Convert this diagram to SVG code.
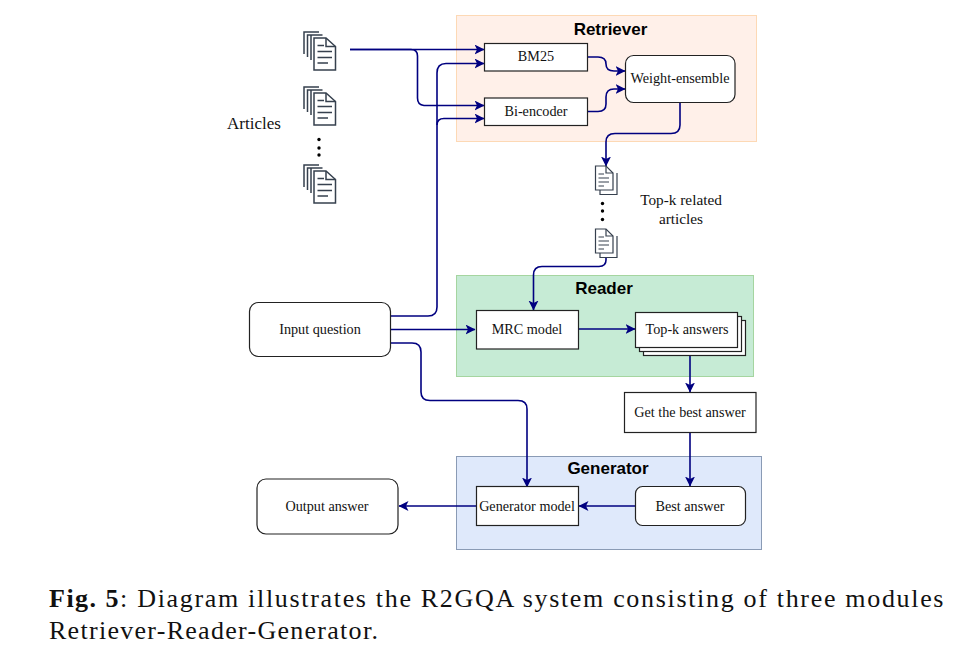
<svg xmlns="http://www.w3.org/2000/svg" xmlns:xlink="http://www.w3.org/1999/xlink" width="968" height="654" viewBox="0 0 968 654">
<style>
.box{fill:#fff;stroke:#222;stroke-width:1.2}
.t{font-family:"Liberation Serif","Times New Roman",serif;font-size:14.200px;fill:#111;text-anchor:middle}
.a{font-size:17px}
.k{font-size:15.300px}
.h{font-family:"Liberation Sans",Arial,sans-serif;font-size:17px;font-weight:700;fill:#000;text-anchor:middle}
.c{fill:none;stroke:#000080;stroke-width:1.6}
.cap{font-family:"Liberation Serif","Times New Roman",serif;font-size:26px;fill:#111}
.d{fill:#fff;stroke:#36404e;stroke-width:1.5}
.dl{fill:none;stroke:#36404e;stroke-width:1.5}
.ds{fill:#fff;stroke:#36404e;stroke-width:1.2}
.dsl{fill:none;stroke:#36404e;stroke-width:1.2}
.dot{fill:#000}
</style>
<defs>
<marker id="arr" markerWidth="12" markerHeight="12" refX="9.500" refY="5" orient="auto" markerUnits="userSpaceOnUse"><path d="M0 0L10 5L0 10L2.500 5Z" fill="#000080"/></marker>
<g id="bigdoc">
<path class="dl" d="M0 22V0H15M3.500 25V3H18.500M7 28V3.500"/>
<path class="d" d="M10 38V6H22L31.500 14.500V38Z"/>
<path class="dl" d="M22 6V14.500H31.500M13.500 13.500H20M13.500 19.500H28M13.500 25.500H28M13.500 31H24"/>
</g>
<g id="smalldoc">
<path class="dsl" d="M22 7V28.500H5V24"/>
<path class="ds" d="M0.500 0H11L18 7V24H0.500Z"/>
<path class="dsl" d="M11 0V7H18M3.500 8H9M3.500 12H14M3.500 16H14M3.500 20H9"/>
</g>
</defs>
<rect id="retriever-bg" x="456.500" y="15.500" width="300" height="126" fill="#fff0e9" stroke="#fdd9b5"/>
<rect id="reader-bg" x="456.500" y="275.500" width="297" height="101" fill="#c6ebd5" stroke="#a5d5a0"/>
<rect id="generator-bg" x="456.500" y="456.500" width="305" height="93" fill="#dfe9fb" stroke="#8a9bb5"/>
<text class="h" x="610.500" y="35">Retriever</text>
<text class="h" x="604" y="294">Reader</text>
<text class="h" x="608" y="474">Generator</text>
<g id="connectors">
<path class="c" d="M350 49.500H484" marker-end="url(#arr)"/>
<path class="c" d="M350 49.500H411Q417.500 49.500 417.500 56V98Q417.500 105 424 105.500H484" marker-end="url(#arr)"/>
<path class="c" d="M390 316H428Q437 316 437 307V73Q437 63.500 446 63.500H484" marker-end="url(#arr)"/>
<path class="c" d="M437 125Q437 118.500 444 118.500H484" marker-end="url(#arr)"/>
<path class="c" d="M390 329.500H475" marker-end="url(#arr)"/>
<path class="c" d="M390 343H412Q421 343 421 352V392Q421 400.500 430 400.500H518Q527 400.500 527 409V487" marker-end="url(#arr)"/>
<path class="c" d="M587 57H598Q606 57 606 64V64Q606 71 614 71H625" marker-end="url(#arr)"/>
<path class="c" d="M587 111.500H598Q606 111.500 606 104V97Q606 89 614 89H625" marker-end="url(#arr)"/>
<path class="c" d="M680 102V125Q680 133.500 671 133.500H615Q606 133.500 606 142V166" marker-end="url(#arr)"/>
<path class="c" d="M606 257V260Q606 266.500 599 266.500H542Q533.500 266.500 533.500 275V310" marker-end="url(#arr)"/>
<path class="c" d="M578 329H635" marker-end="url(#arr)"/>
<path class="c" d="M690 355V392" marker-end="url(#arr)"/>
<path class="c" d="M690 432V486" marker-end="url(#arr)"/>
<path class="c" d="M635 506H579" marker-end="url(#arr)"/>
<path class="c" d="M476 506H399" marker-end="url(#arr)"/>
</g>
<g id="articles">
<use xlink:href="#bigdoc" href="#bigdoc" x="304" y="32"/>
<use xlink:href="#bigdoc" href="#bigdoc" x="304" y="87"/>
<use xlink:href="#bigdoc" href="#bigdoc" x="304" y="165"/>
<circle class="dot" cx="319" cy="139.500" r="1.700"/><circle class="dot" cx="319" cy="148" r="1.700"/><circle class="dot" cx="319" cy="155" r="1.700"/>
<text class="t a" x="254" y="129">Articles</text>
</g>
<g id="topk-articles">
<use xlink:href="#smalldoc" href="#smalldoc" x="595" y="166"/>
<use xlink:href="#smalldoc" href="#smalldoc" x="595" y="229"/>
<circle class="dot" cx="602.500" cy="203.500" r="1.700"/><circle class="dot" cx="602.500" cy="211" r="1.700"/><circle class="dot" cx="602.500" cy="219.500" r="1.700"/>
<text class="t k" x="681" y="205">Top-k related</text>
<text class="t k" x="681" y="224">articles</text>
</g>
<g id="bm25"><rect class="box" x="484.500" y="43.500" width="103" height="27.500"/><text class="t" x="536" y="61">BM25</text></g>
<g id="bi-encoder"><rect class="box" x="484.500" y="98" width="103" height="27.500"/><text class="t" x="536" y="116">Bi-encoder</text></g>
<g id="weight-ensemble"><rect class="box" x="625.500" y="55.500" width="109.500" height="47" rx="8"/><text class="t" x="680" y="83">Weight-ensemble</text></g>
<g id="input-question"><rect class="box" x="249.500" y="302.500" width="141" height="54" rx="9"/><text class="t" x="320" y="334">Input question</text></g>
<g id="mrc-model"><rect class="box" x="476.500" y="310.500" width="102" height="38.500"/><text class="t" x="527" y="334">MRC model</text></g>
<g id="topk-answers">
<rect class="box" x="643.500" y="320.500" width="102" height="35"/>
<rect class="box" x="639.500" y="316.500" width="102" height="35"/>
<rect class="box" x="635.500" y="312.500" width="102" height="35"/>
<text class="t" x="687" y="334">Top-k answers</text></g>
<g id="get-best"><rect class="box" x="624.500" y="392.500" width="131.500" height="40"/><text class="t" x="690" y="417">Get the best answer</text></g>
<g id="best-answer"><rect class="box" x="635.500" y="486.500" width="110" height="39" rx="7"/><text class="t" x="690" y="511">Best answer</text></g>
<g id="generator-model"><rect class="box" x="476.500" y="486.500" width="102" height="39"/><text class="t" x="527" y="511">Generator model</text></g>
<g id="output-answer"><rect class="box" x="257" y="479" width="141" height="55" rx="9"/><text class="t" x="327" y="511">Output answer</text></g>
<text class="cap" x="49" y="607"><tspan font-weight="700" letter-spacing="1.500">Fig. 5</tspan><tspan letter-spacing="1.680">: Diagram illustrates the R2GQA system consisting of three modules</tspan></text>
<text class="cap" x="49" y="639" letter-spacing="1.280">Retriever-Reader-Generator.</text>
</svg>
